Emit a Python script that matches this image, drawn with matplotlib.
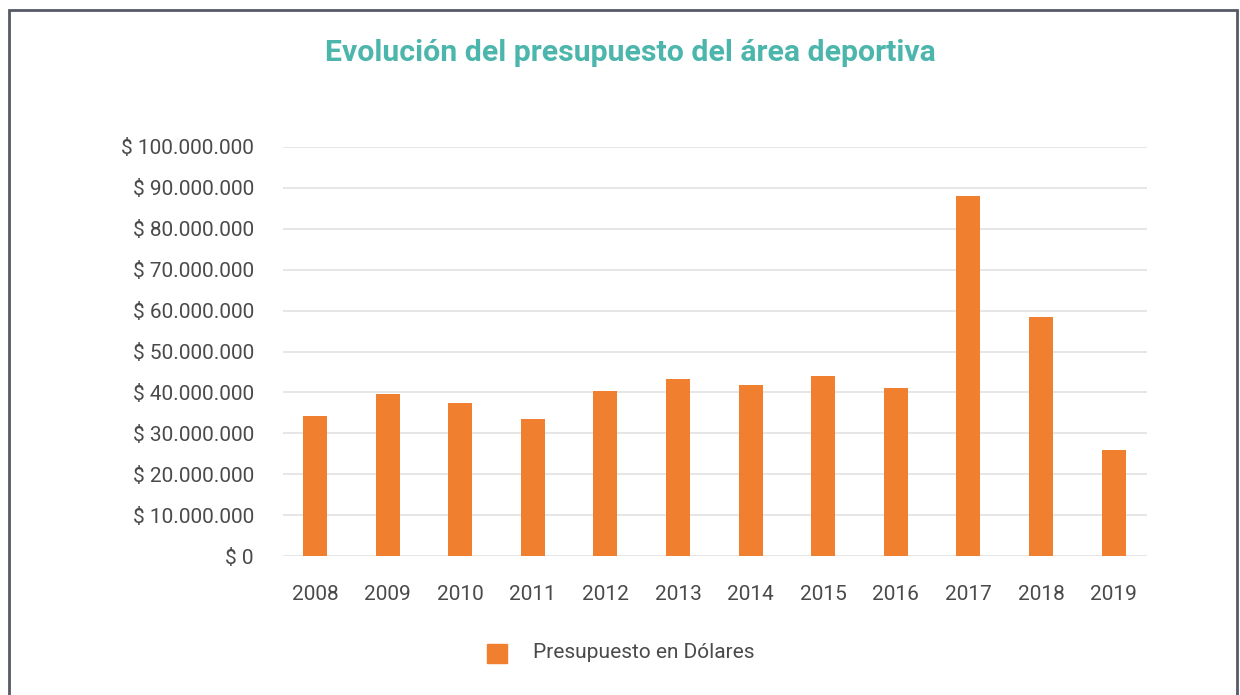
import numpy as np
import matplotlib.pyplot as plt
from matplotlib.patches import Rectangle

# data
years = ['2008', '2009', '2010', '2011', '2012', '2013', '2014', '2015', '2016', '2017', '2018', '2019']
budget = [34.2, 39.6, 37.4, 33.5, 40.3, 43.3, 41.8, 44.0, 41.1, 88.0, 58.4, 25.9]  # millions USD
yticks = np.arange(0, 101, 10)

orange = '#f07f30'
teal = '#4db6ac'
text_col = '#4a4a4a'

plt.rcParams['font.family'] = ['Roboto', 'DejaVu Sans']

fig = plt.figure(figsize=(12.4, 6.95), dpi=100)
ax = fig.add_axes([283 / 1240, 1 - 556 / 695, 864 / 1240, 409 / 695])

x = np.arange(len(years))
ax.bar(x, budget, width=0.33, color=orange, zorder=3, label='Presupuesto en Dólares')

ax.set_xlim(-0.44, 11.46)
ax.set_ylim(0, 100)
ax.set_yticks(yticks)
ax.set_yticklabels(['$ ' + f'{v * 1000000:,.0f}'.replace(',', '.') for v in yticks],
                   fontsize=15, color=text_col)
ax.set_xticks(x)
ax.set_xticklabels(years, fontsize=15, color=text_col)
ax.tick_params(length=0)
ax.tick_params(axis='y', pad=21)
ax.tick_params(axis='x', pad=21)
ax.grid(axis='y', color='#e2e2e2', linewidth=1.2, zorder=0)
for s in ax.spines.values():
    s.set_visible(False)

fig.text(630 / 1240, 1 - 53 / 695, 'Evolución del presupuesto del área deportiva',
         ha='center', va='center', fontsize=21.8, fontweight='bold', color=teal)

# legend drawn by hand
fig.patches.append(Rectangle((487 / 1240, 1 - 663 / 695), 20 / 1240, 19 / 695,
                             transform=fig.transFigure, color=orange))
fig.text(533 / 1240, 1 - 653 / 695, 'Presupuesto en Dólares', ha='left', va='center',
         fontsize=15, color=text_col)

# outer frame
frame = Rectangle((9 / 1240, -0.05), 1228 / 1240, 1 - 10 / 695 + 0.05, transform=fig.transFigure,
                  fill=False, edgecolor='#555a66', linewidth=2)
fig.patches.append(frame)

fig.savefig('out.png', dpi=100)
